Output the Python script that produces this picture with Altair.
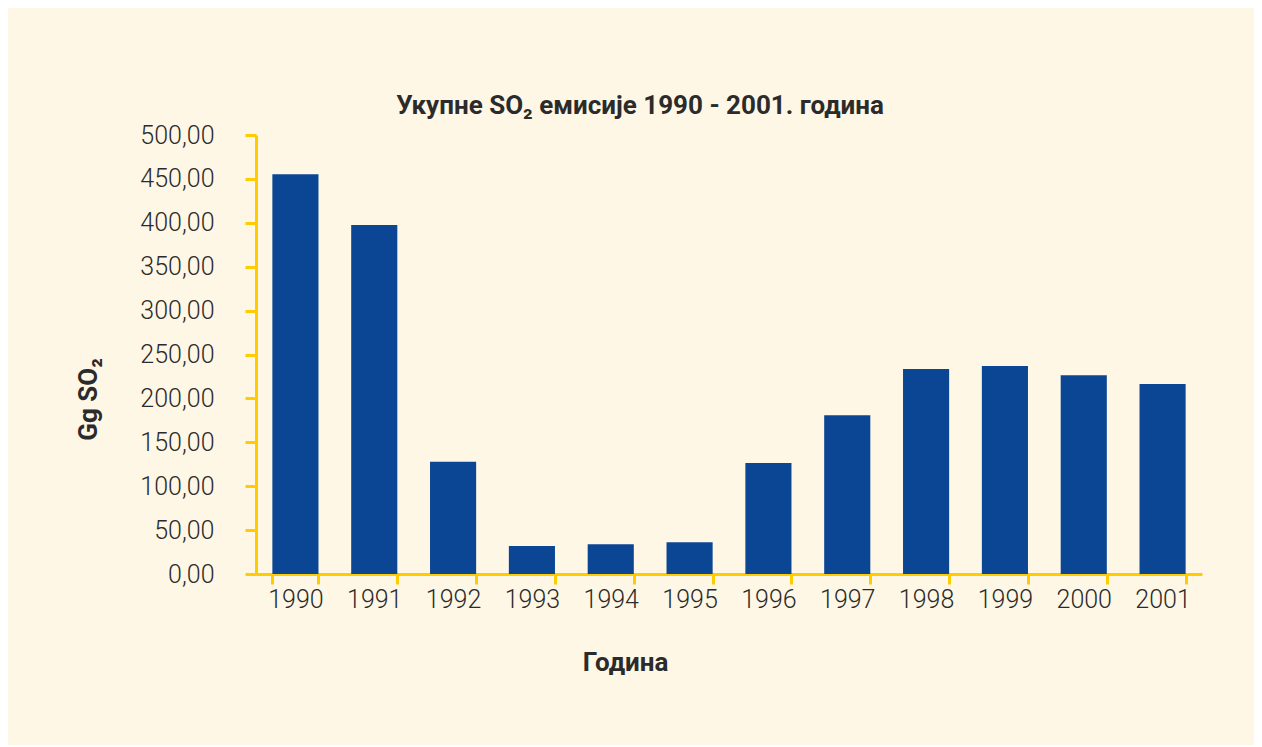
import altair as alt
import pandas as pd

years = ["1990", "1991", "1992", "1993", "1994", "1995",
         "1996", "1997", "1998", "1999", "2000", "2001"]
emissions = [455.2, 397.5, 127.9, 31.9, 33.8, 36.1,
             126.4, 180.7, 233.5, 236.9, 226.3, 216.4]
y_ticks = [0, 50, 100, 150, 200, 250, 300, 350, 400, 450, 500]

df = pd.DataFrame({"year": years, "value": emissions})

BG = "#FEF7E6"
YEL = "#FFCC00"
BAR = "#0B4694"
TXT = "#2B2B2B"

bars = alt.Chart(df).mark_bar(color=BAR).encode(
    x=alt.X("year:N", sort=years,
            scale=alt.Scale(paddingInner=0.415, paddingOuter=0.2075),
            axis=alt.Axis(title="Година", labelAngle=0, tickBand="extent",
                          domainColor=YEL, domainWidth=3, tickColor=YEL,
                          tickWidth=3, tickSize=10, labelPadding=3,
                          labelFont="Roboto", labelFontWeight=300,
                          labelFontSize=25, labelColor=TXT,
                          titleFont="Roboto", titleFontWeight="bold",
                          titleFontSize=26, titleColor=TXT,
                          titleX=369, titleY=88, titleBaseline="middle")),
    y=alt.Y("value:Q", scale=alt.Scale(domain=[0, 500], nice=False),
            axis=alt.Axis(title="Gg SO₂", values=y_ticks,
                          labelExpr="replace(format(datum.value, '.2f'), '.', ',')",
                          grid=False, domainColor=YEL, domainWidth=3,
                          tickColor=YEL, tickWidth=3, tickSize=11,
                          labelPadding=31, labelFont="Roboto",
                          labelFontWeight=300, labelFontSize=25,
                          labelColor=TXT, labelBaseline="middle",
                          titleFont="Roboto", titleFontWeight="bold",
                          titleFontSize=26, titleColor=TXT,
                          titleX=-168, titleY=264, titleAngle=270,
                          titleBaseline="middle", titleAlign="center")),
).properties(
    width=946, height=439,
    title=alt.TitleParams("Укупне SO₂ емисије 1990 - 2001. година",
                          font="Roboto", fontWeight="bold", fontSize=26,
                          color=TXT, anchor="middle", frame="group",
                          dx=-89, offset=-17, baseline="alphabetic"),
    background=BG,
    autosize=alt.AutoSizeParams(type="none"),
    padding={"left": 248, "top": 127, "right": 52, "bottom": 171},
).configure_view(stroke=None)

bars.save("out.html", embed_options={"renderer": "svg", "actions": False})
